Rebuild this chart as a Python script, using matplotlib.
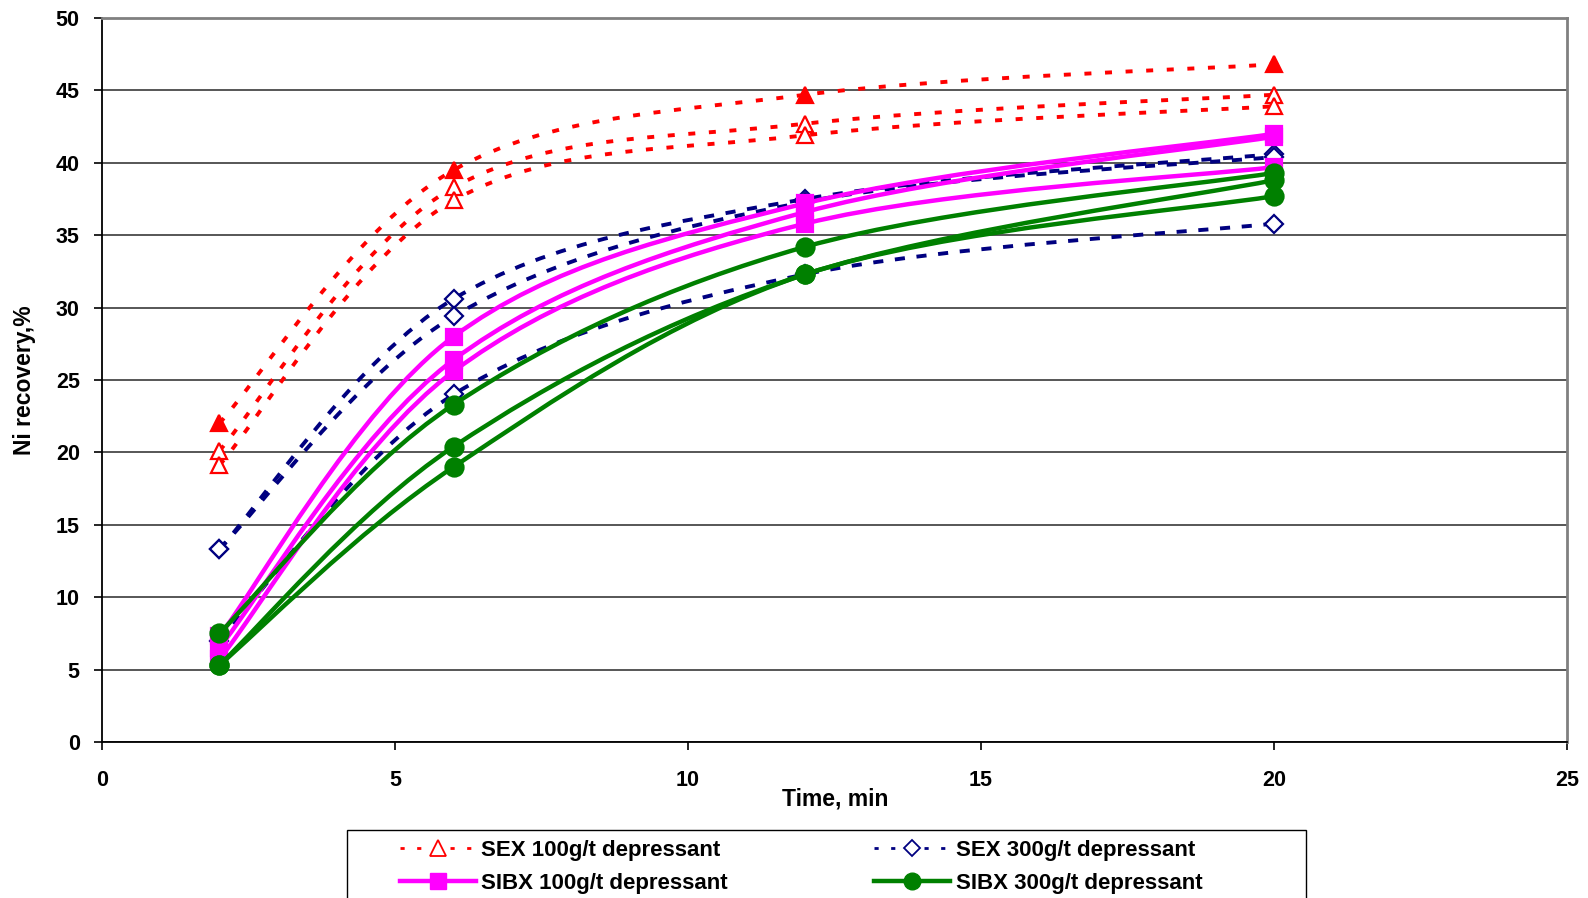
import matplotlib
matplotlib.use("Agg")
import matplotlib.pyplot as plt
from matplotlib.path import Path
from matplotlib.patches import PathPatch, Rectangle
from matplotlib.lines import Line2D

# ---------------- data ----------------
time_min = [2, 6, 12, 20]

sex100_filled = [22.0, 39.5, 44.7, 46.8]
sex100_open1 = [20.1, 38.3, 42.7, 44.7]
sex100_open2 = [19.1, 37.4, 41.9, 43.9]

sex300_1 = [13.3, 30.6, 37.5, 40.6]
sex300_2 = [13.3, 29.4, 37.3, 40.4]
sex300_3 = [7.0, 24.0, 32.3, 35.8]

sibx100_1 = [7.3, 28.0, 37.2, 42.0]
sibx100_2 = [6.5, 26.4, 36.6, 41.8]
sibx100_3 = [5.7, 25.6, 35.8, 39.7]

sibx300_1 = [7.5, 23.3, 34.2, 39.3]
sibx300_2 = [5.3, 20.4, 32.3, 38.8]
sibx300_3 = [5.3, 19.0, 32.3, 37.7]

legend_labels = ["SEX 100g/t depressant", "SEX 300g/t depressant",
                 "SIBX 100g/t depressant", "SIBX 300g/t depressant"]
x_ticks = [0, 5, 10, 15, 20, 25]
y_ticks = [0, 5, 10, 15, 20, 25, 30, 35, 40, 45, 50]

# ---------------- style ----------------
RED = "#FF0000"
NAVY = "#000080"
MAGENTA = "#FF00FF"
GREEN = "#008000"
FONT = "Liberation Sans"

W, H = 1588, 898
fig = plt.figure(figsize=(W / 100, H / 100), dpi=100)
ax = fig.add_axes([102 / W, 1 - 742 / H, (1567 - 102) / W, (742 - 18) / H])


def smooth_path(xs, ys):
    """Excel-like smoothed line (Catmull-Rom style cubic Bezier)."""
    pts = list(zip(xs, ys))
    n = len(pts)
    verts = [pts[0]]
    codes = [Path.MOVETO]
    for i in range(n - 1):
        p0 = pts[i - 1] if i > 0 else pts[i]
        p1 = pts[i]
        p2 = pts[i + 1]
        p3 = pts[i + 2] if i + 2 < n else pts[i + 1]
        c1 = (p1[0] + (p2[0] - p0[0]) / 6.0, p1[1] + (p2[1] - p0[1]) / 6.0)
        c2 = (p2[0] - (p3[0] - p1[0]) / 6.0, p2[1] - (p3[1] - p1[1]) / 6.0)
        verts += [c1, c2, p2]
        codes += [Path.CURVE4] * 3
    return Path(verts, codes)


def draw(ys, color, lw, ls, marker, ms, filled, z):
    patch = PathPatch(smooth_path(time_min, ys), fill=False, edgecolor=color,
                      linewidth=lw, linestyle=ls, capstyle="butt", zorder=z)
    ax.add_patch(patch)
    ax.plot(time_min, ys, linestyle="none", marker=marker, markersize=ms,
            markerfacecolor=color if filled else "white",
            markeredgecolor=color, markeredgewidth=1.6, zorder=z + 0.5)


red_ls = (0, (1.8, 3.5))
navy_ls = (0, (2.6, 3.0))

draw(sex100_open1, RED, 2.8, red_ls, "^", 12, False, 3)
draw(sex100_open2, RED, 2.8, red_ls, "^", 12, False, 3)
draw(sex100_filled, RED, 2.8, red_ls, "^", 12, True, 3)

draw(sex300_1, NAVY, 2.8, navy_ls, "D", 9, False, 4)
draw(sex300_2, NAVY, 2.8, navy_ls, "D", 9, False, 4)
draw(sex300_3, NAVY, 2.8, navy_ls, "D", 9, False, 4)

draw(sibx100_1, MAGENTA, 3.2, "-", "s", 12, True, 5)
draw(sibx100_2, MAGENTA, 3.2, "-", "s", 12, True, 5)
draw(sibx100_3, MAGENTA, 3.2, "-", "s", 12, True, 5)

draw(sibx300_1, GREEN, 3.2, "-", "o", 13, True, 6)
draw(sibx300_2, GREEN, 3.2, "-", "o", 13, True, 6)
draw(sibx300_3, GREEN, 3.2, "-", "o", 13, True, 6)

# ---------------- axes ----------------
ax.set_xlim(0, 25)
ax.set_ylim(0, 50)
ax.set_xticks(x_ticks)
ax.set_yticks(y_ticks)
ax.set_xticklabels([str(v) for v in x_ticks], fontfamily=FONT, fontweight="bold", fontsize=15.5)
ax.set_yticklabels([str(v) for v in y_ticks], fontfamily=FONT, fontweight="bold", fontsize=15.5)
ax.tick_params(axis="x", direction="out", length=6, width=1.2, pad=14, colors="black")
ax.tick_params(axis="y", direction="out", length=6, width=1.2, pad=10, colors="black")
ax.yaxis.grid(True, color="#3a3a3a", linewidth=1.2, zorder=1)
ax.xaxis.grid(False)
ax.set_axisbelow(True)
for side in ("left", "bottom"):
    ax.spines[side].set_color("black")
    ax.spines[side].set_linewidth(1.3)
for side in ("top", "right"):
    ax.spines[side].set_color("#808080")
    ax.spines[side].set_linewidth(2.0)

fig.text(835 / W, 1 - 799 / H, "Time, min", ha="center", va="center",
         fontfamily=FONT, fontweight="bold", fontsize=16.5)
fig.text(25 / W, 1 - 380 / H, "Ni recovery,%", ha="center", va="center",
         rotation=90, fontfamily=FONT, fontweight="bold", fontsize=16.5)

# ---------------- legend ----------------
handles = [
    Line2D([], [], color=RED, lw=2.0, linestyle=(0, (1.5, 4.5)), marker="^",
           markersize=11, markerfacecolor="white", markeredgecolor=RED, markeredgewidth=1.3),
    Line2D([], [], color=MAGENTA, lw=3.2, linestyle="-", marker="s",
           markersize=12, markerfacecolor=MAGENTA, markeredgecolor=MAGENTA),
    Line2D([], [], color=NAVY, lw=2.0, linestyle=(0, (1.5, 4.5)), marker="D",
           markersize=8, markerfacecolor="white", markeredgecolor=NAVY, markeredgewidth=1.3),
    Line2D([], [], color=GREEN, lw=3.2, linestyle="-", marker="o",
           markersize=12, markerfacecolor=GREEN, markeredgecolor=GREEN),
]
labels = [legend_labels[0], legend_labels[2], legend_labels[1], legend_labels[3]]
fig.legend(handles, labels, loc="upper left", bbox_to_anchor=(400 / W, 1 - 840 / H),
           ncol=2, frameon=False, borderpad=0, borderaxespad=0, numpoints=1,
           handlelength=3.42, handletextpad=0.23, columnspacing=6.6, labelspacing=0.55,
           prop={"family": FONT, "weight": "bold", "size": 16})
fig.patches.append(Rectangle((347 / W, -0.1), (1306 - 347) / W, 0.1 + (898 - 830) / H,
                             transform=fig.transFigure, fill=False, edgecolor="black",
                             linewidth=1.0, figure=fig))

fig.savefig("out.png", dpi=100)
